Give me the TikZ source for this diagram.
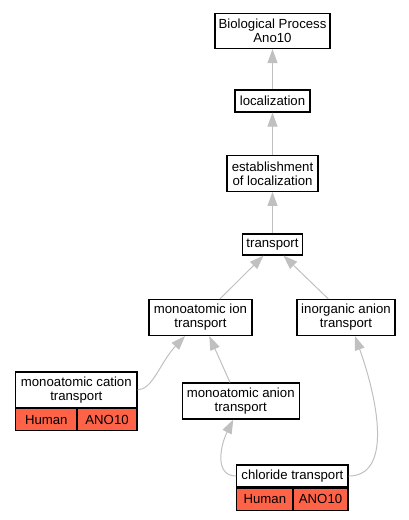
\documentclass[tikz,border=0pt]{standalone}
\usepackage{fontspec}
\setmainfont{Liberation Sans}
\usetikzlibrary{arrows.meta}
\definecolor{tomato}{HTML}{FF6347}
\definecolor{isagray}{HTML}{C0C0C0}

\begin{document}
\begin{tikzpicture}[x=1pt,y=-1pt,
  term/.style={draw, fill=white, line width=1.2pt, align=center, inner sep=0pt, font=\fontsize{13.2}{14}\selectfont},
  gene/.style={term, fill=tomato, minimum height=22pt},
  isa/.style={draw=isagray, line width=1pt, -{Triangle[length=14pt,width=10pt]}}]
  \useasboundingbox (0,0) rectangle (409,520);
  % go terms
  \node[term, minimum width=115pt, minimum height=35pt] (bio) at (272.5,31) {Biological Process\\Ano10};
  \node[term, minimum width=75pt, minimum height=22pt] (loc) at (272.5,101) {localization};
  \node[term, minimum width=91pt, minimum height=36pt] (estab) at (272.5,173.3) {establishment\\of localization};
  \node[term, minimum width=60pt, minimum height=21pt] (transp) at (272.5,244.5) {transport};
  \node[term, minimum width=103pt, minimum height=36pt] (ion) at (200.5,317.5) {monoatomic ion\\transport};
  \node[term, minimum width=98pt, minimum height=36pt] (inorg) at (346,317.5) {inorganic anion\\transport};
  \node[term, minimum width=117pt, minimum height=36pt] (anion) at (240.7,401) {monoatomic anion\\transport};
  % annotated terms
  \node[term, minimum width=121.5pt, minimum height=35.5pt] (cation) at (76.3,389.8) {monoatomic cation\\transport};
  \node[gene, minimum width=61.5pt, anchor=north west] (cationH) at (cation.south west) {Human};
  \node[gene, minimum width=60pt, anchor=north east] (cationA) at (cation.south east) {ANO10};
  \node[term, minimum width=111.3pt, minimum height=22pt] (chl) at (292.4,476) {chloride transport};
  \node[gene, minimum width=56.3pt, anchor=north west] (chlH) at (chl.south west) {Human};
  \node[gene, minimum width=55pt, anchor=north east] (chlA) at (chl.south east) {ANO10};
  % is_a edges
  \draw[isa] (loc) -- (bio);
  \draw[isa] (estab) -- (loc);
  \draw[isa] (transp) -- (estab);
  \draw[isa] ([xshift=19.5pt]ion.north) -- ([xshift=-9pt]transp.south);
  \draw[isa] ([xshift=-17.7pt]inorg.north) -- ([xshift=11pt]transp.south);
  \draw[isa] ([xshift=-10.7pt]anion.north) -- ([xshift=8.8pt]ion.south);
  \draw[isa] (cation.east) .. controls +(15,0) and +(-25,26.5) .. ([xshift=-15.5pt]ion.south);
  \draw[isa] (chl.west) .. controls +(-22,0) and +(-13,26) .. ([xshift=-7.4pt]anion.south);
  \draw[isa] (chl.east) .. controls +(44,0) and +(23,64.5) .. ([xshift=9pt]inorg.south);
\end{tikzpicture}
\end{document}
